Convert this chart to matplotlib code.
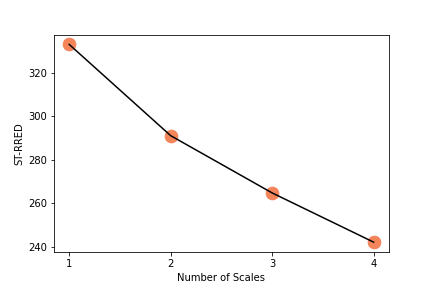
import matplotlib
matplotlib.use("Agg")
import matplotlib.pyplot as plt

scales = [1, 2, 3, 4]
st_rred = [333.0, 291.1, 264.8, 242.2]

fig = plt.figure(figsize=(6, 4), dpi=72)
ax = fig.add_axes([0.125, 0.125, 0.775, 0.755])
ax.scatter(scales, st_rred, s=160, color="#f4845a", zorder=1)
ax.plot(scales, st_rred, color="black", zorder=2)
ax.set_xticks(scales)
ax.set_xlabel("Number of Scales")
ax.set_ylabel("ST-RRED")
fig.savefig("out.png", dpi=72)
